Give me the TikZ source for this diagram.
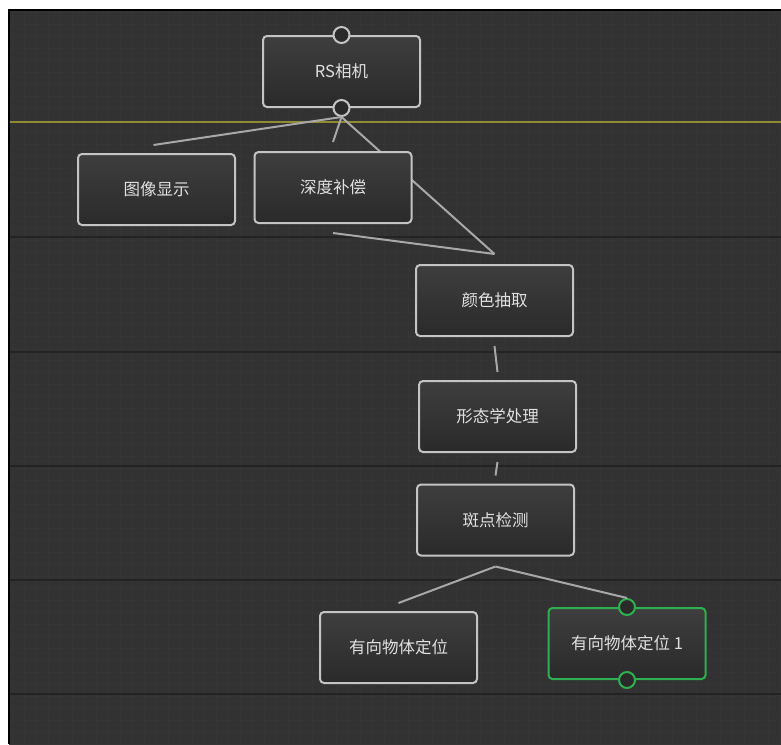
\documentclass[tikz,border=0pt]{standalone}
\usepackage{fontspec}
\newfontfamily\cjk{Noto Sans CJK SC}
\definecolor{bgc}{HTML}{323232}
\definecolor{gridc}{HTML}{353535}
\definecolor{sepc}{HTML}{232323}
\definecolor{yelc}{HTML}{8F8B30}
\definecolor{bordc}{HTML}{C4C4C4}
\definecolor{linec}{HTML}{A8A8A8}
\definecolor{txtc}{HTML}{E0E0E0}
\definecolor{topc}{HTML}{3E3E3E}
\definecolor{botc}{HTML}{2A2A2A}
\definecolor{grc}{HTML}{2EB050}
\tikzset{
  box/.style={draw=bordc, line width=2pt, rounded corners=4pt, top color=topc, bottom color=botc,
    minimum width=157pt, minimum height=71pt, inner sep=0pt, text=txtc, font=\cjk\fontsize{16.5}{19}\selectfont},
  greenbox/.style={box, draw=grc},
  port/.style={circle, draw=bordc, line width=2pt, fill=botc, minimum size=16pt, inner sep=0pt},
  greenport/.style={port, draw=grc},
  conn/.style={draw=linec, line width=2pt},
  sepline/.style={draw=sepc, line width=1.2pt}
}
\begin{document}
\begin{tikzpicture}[x=1pt,y=-1pt]
\useasboundingbox (0,0) rectangle (781,744);
\fill[white] (0,0) rectangle (781,744);
\fill[bgc] (8,9) rectangle (781,744);
\draw[gridc, line width=0.5pt, step=12pt] (9,10) grid (781,744);
\draw[black, line width=2pt] (9,744) -- (9,10) -- (781,10);
% separators
\draw[yelc, line width=2.8pt] (10,122) -- (781,122);
\foreach \yy in {237,352,466,580,694} {\draw[sepline] (10,\yy) -- (781,\yy);}
% nodes
\node[box] (rs) at (341.5,71.5) {RS相机};
\node[port] (rsin) at (rs.north) {};
\node[port] (rsout) at (rs.south) {};
\node[box] (color) at (494.5,300.5) {颜色抽取};
% connector passing behind the depth node
\draw[conn] (rsout.south) -- ([yshift=10pt]color.north);
\node[box] (depth) at (333,187.5) {深度补偿};
\node[box] (disp) at (156.5,189.5) {图像显示};
\node[box] (morph) at (497.5,416.5) {形态学处理};
\node[box] (blob) at (495.5,520) {斑点检测};
\node[box] (loc) at (398.5,647.5) {有向物体定位};
\node[greenbox] (loc1) at (627,643.5) {有向物体定位 1};
\node[greenport] (loc1in) at (loc1.north) {};
\node[greenport] (loc1out) at (loc1.south) {};
% connectors
\draw[conn] (rsout.south) -- ([xshift=-3pt,yshift=8pt]disp.north);
\draw[conn] (rsout.south) -- ([yshift=9pt]depth.north);
\draw[conn] ([yshift=-9pt]depth.south) -- ([yshift=10pt]color.north);
\draw[conn] ([yshift=-9pt]color.south) -- ([yshift=8pt]morph.north);
\draw[conn] ([yshift=-9pt]morph.south) -- ([yshift=8pt]blob.north);
\draw[conn] ([yshift=-10pt]blob.south) -- ([yshift=8pt]loc.north);
\draw[conn] ([yshift=-10pt]blob.south) -- (loc1in.north);
\end{tikzpicture}
\end{document}
